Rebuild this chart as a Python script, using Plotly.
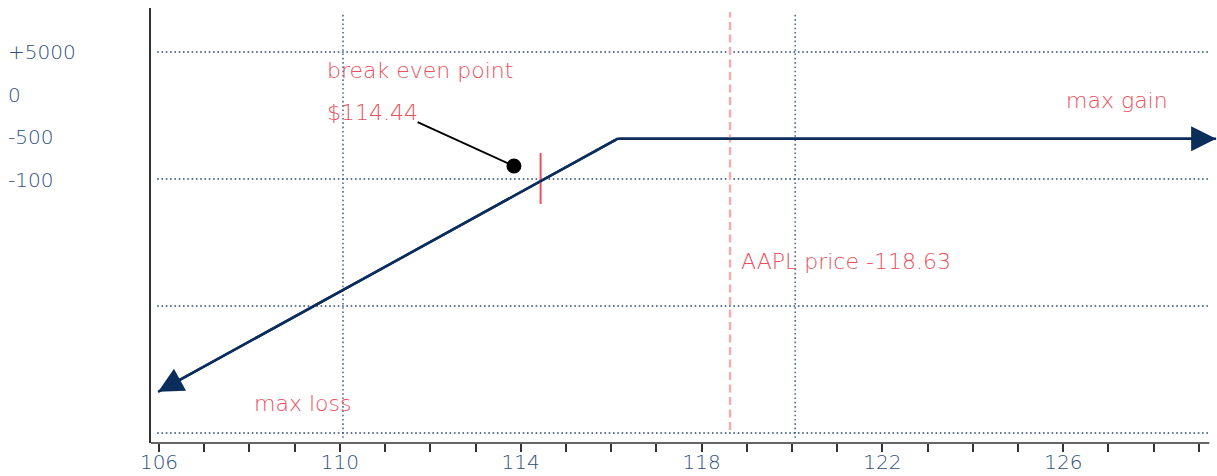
import plotly.graph_objects as go

# ---- data ----
payoff_x = [105.98, 116.14, 129.38]
payoff_y = [-838, 158, 158]
break_even = 114.44
aapl_price = 118.63
grid_y = [500, 0, -500, -1000]
grid_x = [110.07, 120.07]
side_labels = ["+5000", "0", "-500", "-100"]
x_tick_labels = ["106", "110", "114", "118", "122", "126"]
pointer_x = [111.72, 113.85]
pointer_y = [224, 51]

RED = "#e8505b"
NAVY = "#0b2d5c"
BLUE = "#2f5080"
GRID = "#2a4a7a"
FONT = "DejaVu Sans"

X0, X1 = 105.823, 129.4
Y0, Y1 = -1039.4, 673.2

fig = go.Figure()

fig.add_trace(go.Scatter(
    x=payoff_x, y=payoff_y, mode="lines", line=dict(color=NAVY, width=2.5),
    hoverinfo="skip", showlegend=False))
fig.add_trace(go.Scatter(
    x=pointer_x, y=pointer_y, mode="lines", line=dict(color="black", width=2),
    hoverinfo="skip", showlegend=False))

shapes = []
for gy in grid_y:
    shapes.append(dict(type="line", xref="x", yref="y", x0=105.96, x1=129.2, y0=gy, y1=gy,
                       line=dict(color=GRID, width=1.3, dash="1.6px,2.7px"), layer="below"))
for gx in grid_x:
    shapes.append(dict(type="line", xref="x", yref="y", x0=gx, x1=gx, y0=-1019, y1=657,
                       line=dict(color=GRID, width=1.3, dash="1.6px,2.7px"), layer="below"))
shapes.append(dict(type="line", xref="x", yref="y", x0=aapl_price, x1=aapl_price, y0=-988, y1=657,
                   line=dict(color="#f1aeb2", width=2.5, dash="8px,4.5px")))
shapes.append(dict(type="line", xref="x", yref="y", x0=break_even, x1=break_even, y0=102, y1=-98,
                   line=dict(color=RED, width=2)))
shapes.append(dict(type="circle", xref="x", yref="y", xsizemode="pixel", ysizemode="pixel",
                   xanchor=pointer_x[1], yanchor=pointer_y[1], x0=-7.5, x1=7.5, y0=-7.5, y1=7.5,
                   fillcolor="black", line=dict(width=0)))
shapes.append(dict(type="line", xref="x", yref="paper", x0=X0, x1=129.23, y0=0, y1=0,
                   line=dict(color="#333333", width=1.5)))

annotations = []
annotations.append(dict(x=payoff_x[0], y=payoff_y[0], ax=payoff_x[1], ay=payoff_y[1],
                        xref="x", yref="y", axref="x", ayref="y", text="", showarrow=True,
                        arrowhead=2, arrowsize=2, arrowwidth=2.5, arrowcolor=NAVY))
annotations.append(dict(x=payoff_x[2], y=payoff_y[2], ax=payoff_x[1], ay=payoff_y[1],
                        xref="x", yref="y", axref="x", ayref="y", text="", showarrow=True,
                        arrowhead=2, arrowsize=2, arrowwidth=2.5, arrowcolor=NAVY))

side_label_y = [500, 331, 165, -4]
for t, yy in zip(side_labels, side_label_y):
    annotations.append(dict(text=t, xref="paper", yref="y", x=-0.136, y=yy,
                            xanchor="left", yanchor="middle", showarrow=False,
                            font=dict(family=FONT, size=20, color=BLUE, weight=300)))

def txt(t, x, y):
    annotations.append(dict(text=t, xref="x", yref="y", x=x, y=y, xanchor="left",
                            yanchor="middle", showarrow=False,
                            font=dict(family=FONT, size=22, color=RED, weight=300)))

txt("break even point", 109.68, 428)
txt("$114.44", 109.68, 260)
txt("max gain", 126.02, 311)
txt("max loss", 108.06, -883)
txt("AAPL price -118.63", 118.82, -323)

fig.update_layout(
    width=1217, height=476,
    margin=dict(l=151, r=0, t=8, b=33),
    plot_bgcolor="white", paper_bgcolor="white",
    shapes=shapes, annotations=annotations,
    showlegend=False,
    xaxis=dict(range=[X0, X1], showgrid=False, zeroline=False, showline=False, automargin=False,
               tickmode="array", tickvals=[int(v) for v in x_tick_labels], ticktext=x_tick_labels,
               ticks="outside", ticklen=8, tickwidth=1.5, tickcolor="#333333",
               ticklabelstandoff=-7,
               minor=dict(dtick=1, tick0=106, ticks="outside", ticklen=8, tickwidth=1.5,
                          tickcolor="#333333"),
               tickfont=dict(family=FONT, size=20, color=BLUE, weight=300)),
    yaxis=dict(range=[Y0, Y1], showgrid=False, zeroline=False, showline=True, automargin=False,
               linecolor="#333333", linewidth=1.5, showticklabels=False, ticks=""),
)

fig.write_html("out.html", config={"displayModeBar": False},
               post_script="document.body.style.margin='0px';")
